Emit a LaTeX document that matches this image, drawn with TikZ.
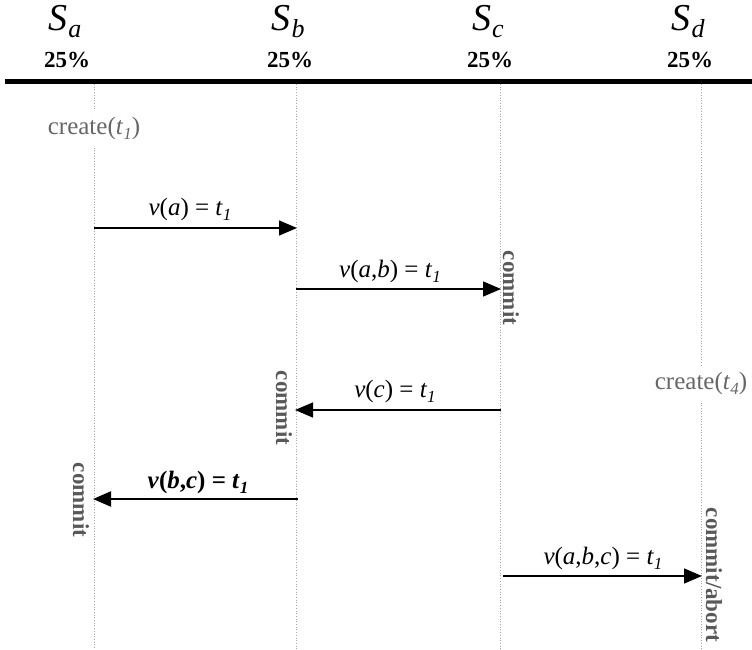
\documentclass[tikz,border=0pt]{standalone}
\usepackage{fontspec}
\setmainfont{Liberation Serif}
\usetikzlibrary{arrows.meta}
\newcommand{\sub}[1]{\raisebox{-5pt}{\fontsize{17}{18}\selectfont\textit{#1}}}
\newcommand{\sitesub}[1]{\kern1pt\raisebox{-7pt}{\fontsize{26}{28}\selectfont #1}}
\begin{document}
\begin{tikzpicture}[x=1pt,y=-1pt,
  site/.style={font=\fontsize{38}{40}\selectfont\itshape, anchor=base, inner sep=0pt},
  share/.style={font=\fontsize{23}{25}\selectfont\bfseries, inner sep=0pt},
  life/.style={draw=gray!70, dotted, line width=0.7pt},
  msg/.style={draw=black, line width=1.4pt, -{Triangle[length=18pt,width=15pt]}},
  msglbl/.style={font=\fontsize{25}{28}\selectfont, anchor=base},
  evt/.style={font=\fontsize{25}{28}\selectfont, text=black!60},
  done/.style={font=\fontsize{23}{26}\selectfont\bfseries, text=black!65, rotate=-90}]
\useasboundingbox (0,0) rectangle (752,649);

% site headers
\node[site] (ha) at (65,30) {S\sitesub{a}};
\node[site] (hb) at (288,30) {S\sitesub{b}};
\node[site] (hc) at (488,30) {S\sitesub{c}};
\node[site] (hd) at (688,30) {S\sitesub{d}};
\node[share] (pa) at (67,60) {25\%};
\node[share] (pb) at (290,60) {25\%};
\node[share] (pc) at (490,60) {25\%};
\node[share] (pd) at (690,60) {25\%};

% separator
\draw[line width=5pt] (5,81) -- (752,81);

% lifeline anchors
\coordinate (a0) at (94,84);  \coordinate (a9) at (94,649);
\coordinate (b0) at (296,84); \coordinate (b9) at (296,649);
\coordinate (c0) at (500,84); \coordinate (c9) at (500,649);
\coordinate (d0) at (701,84); \coordinate (d9) at (701,649);

% creation events
\node[evt, inner sep=2pt] (ca) at (94,128) {create(\textit{t}\sub{1})};
\node[evt, inner sep=2pt] (cd) at (701,383) {create(\textit{t}\sub{4})};

% lifelines
\draw[life] (a0) -- ([yshift=4pt]ca.north);
\draw[life] ([yshift=-6pt]ca.south) -- (a9);
\draw[life] (b0) -- (b9);
\draw[life] (c0) -- (c9);
\draw[life] (d0) -- ([yshift=4pt]cd.north);
\draw[life] ([yshift=-6pt]cd.south) -- (d9);

% message end points
\coordinate (m1s) at (94,228);  \coordinate (m1e) at (297,228);
\coordinate (m2s) at (296,289); \coordinate (m2e) at (501,289);
\coordinate (m3s) at (501,410); \coordinate (m3e) at (295,410);
\coordinate (m4s) at (298,499); \coordinate (m4e) at (93,499);
\coordinate (m5s) at (503,576); \coordinate (m5e) at (702,576);

% messages
\draw[msg] (m1s) -- (m1e);
\draw[msg] (m2s) -- (m2e);
\draw[msg] (m3s) -- (m3e);
\draw[msg, line width=2.2pt] (m4s) -- (m4e);
\draw[msg] (m5s) -- (m5e);

\node[msglbl] (l1) at (190,215) {\textit{v}(\textit{a}) = \textit{t}\sub{1}};
\node[msglbl] (l2) at (390,277) {\textit{v}(\textit{a},\textit{b}) = \textit{t}\sub{1}};
\node[msglbl] (l3) at (395,397) {\textit{v}(\textit{c}) = \textit{t}\sub{1}};
\node[msglbl, font=\fontsize{25}{28}\selectfont\bfseries] (l4) at (198,488) {\textit{v}(\textit{b},\textit{c}) = \textit{t}\sub{\bfseries 1}};
\node[msglbl] (l5) at (603,564) {\textit{v}(\textit{a},\textit{b},\textit{c}) = \textit{t}\sub{1}};

% outcomes
\node[done] (o2) at (511,288) {commit};
\node[done] (o3) at (284,408) {commit};
\node[done] (o4) at (81,500) {commit};
\node[done] (o5) at (714,575) {commit/abort};
\end{tikzpicture}
\end{document}
